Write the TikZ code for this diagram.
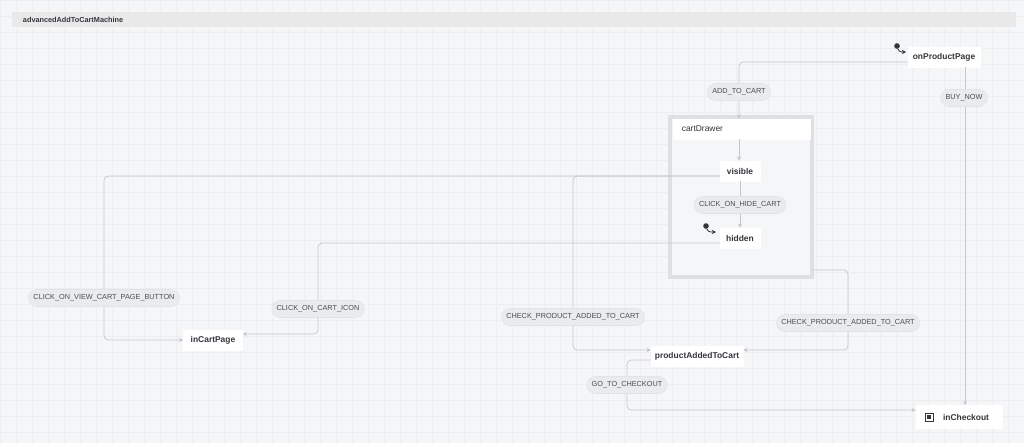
\documentclass[tikz,border=0pt]{standalone}
\usepackage{fontspec}
\setmainfont{Liberation Sans}
\usetikzlibrary{arrows.meta,shapes.misc}
\definecolor{bg}{HTML}{F5F6F7}
\definecolor{gridc}{HTML}{ECEEF0}
\definecolor{edgec}{HTML}{C3C7CC}
\definecolor{pill}{HTML}{E9EBED}
\definecolor{txt}{HTML}{33363B}
\definecolor{lbl}{HTML}{4A4E54}
\begin{document}
\begin{tikzpicture}[x=0.025cm,y=-0.025cm,
	state/.style={fill=white,draw=white,minimum height=20*0.025cm,inner sep=2pt,
		font=\fontsize{6}{7}\selectfont\bfseries,text=txt},
	event/.style={rounded rectangle,fill=pill,draw=edgec!50,minimum height=17*0.025cm,
		inner xsep=3pt,font=\fontsize{5.2}{6}\selectfont,text=lbl},
	edge/.style={draw=edgec,line width=0.5pt,rounded corners=3pt},
	arr/.style={edge,-{Stealth[length=3pt,width=3pt]}},
	init/.style={circle,fill=txt,inner sep=0pt,minimum size=4pt}]
	\useasboundingbox (0,0) rectangle (1024,443);
	\fill[bg] (0,0) rectangle (1024,443);
	\foreach \x in {0,16,...,1024} \draw[gridc,line width=0.15pt] (\x,0) -- (\x,443);
	\foreach \y in {0,16,...,443} \draw[gridc,line width=0.15pt] (0,\y) -- (1024,\y);
	% machine title
	\fill[gridc!70!black!25] (12,12) rectangle (1016,27);
	\node[anchor=west,font=\fontsize{5.2}{6}\selectfont\bfseries,text=txt] (title) at (18,19.5) {advancedAddToCartMachine};
	% compound state
	\draw[draw=edgec!55,line width=2.2pt,fill=bg] (670,117) rectangle (812,277);
	\node[state,anchor=west,minimum width=137*0.025cm,text width=120*0.025cm] (drawer) at (673,129) {\mdseries cartDrawer};
	% states
	\node[state,minimum width=72*0.025cm] (product) at (944,57) {onProductPage};
	\node[state,minimum width=40*0.025cm] (visible) at (740,171) {visible};
	\node[state,minimum width=40*0.025cm] (hidden) at (740,238) {hidden};
	\node[state,minimum width=59*0.025cm] (cart) at (213,340) {inCartPage};
	\node[state,minimum width=92*0.025cm] (added) at (697,356) {productAddedToCart};
	\node[state,minimum width=86*0.025cm,minimum height=23*0.025cm] (checkout) at (959,417) {\hspace{10pt}inCheckout};
	\draw[txt,line width=0.6pt] (925,413) rectangle (933,421);
	\fill[txt] (927,415) rectangle (931,419);
	% initial markers
	\node[init] (i1) at (897,46) {};
	\node[init] (i2) at (706,226) {};
	\draw[txt,line width=0.6pt,-{Stealth[length=3pt,width=3pt]},rounded corners=2pt] (i1) -- (899,52) -- (906,52);
	\draw[txt,line width=0.6pt,-{Stealth[length=3pt,width=3pt]},rounded corners=2pt] (i2) -- (708,232) -- (716,232);
	% transitions
	\draw[arr] (product.west|-0,62) -| (drawer.north-|739,0);
	\node[event] (e1) at (739,92) {ADD\_TO\_CART};
	\draw[arr] (product.south-|965,0) -- (checkout.north-|965,0);
	\node[event] (e2) at (964,98) {BUY\_NOW};
	\draw[arr] (drawer.south-|739,0) -- (visible.north-|739,0);
	\draw[arr] (visible) -- (hidden);
	\node[event] (e3) at (740,205) {CLICK\_ON\_HIDE\_CART};
	\draw[arr] (visible.west|-0,176) -| (104,340) -- (cart.west);
	\node[event] (e4) at (104,298) {CLICK\_ON\_VIEW\_CART\_PAGE\_BUTTON};
	\draw[arr] (hidden.west|-0,243) -| (318,334) -- (cart.east|-0,334);
	\node[event] (e5) at (318,309) {CLICK\_ON\_CART\_ICON};
	\draw[arr] (visible.west|-0,176) -| (573,350) -- (added.west|-0,350);
	\node[event] (e6) at (573,317) {CHECK\_PRODUCT\_ADDED\_TO\_CART};
	\draw[arr] (812,270) -| (848,350) -- (added.east|-0,350);
	\node[event] (e7) at (848,323) {CHECK\_PRODUCT\_ADDED\_TO\_CART};
	\draw[arr] (added.west|-0,360) -| (627,410) -- (checkout.west|-0,410);
	\node[event] (e8) at (627,385) {GO\_TO\_CHECKOUT};
\end{tikzpicture}
\end{document}
